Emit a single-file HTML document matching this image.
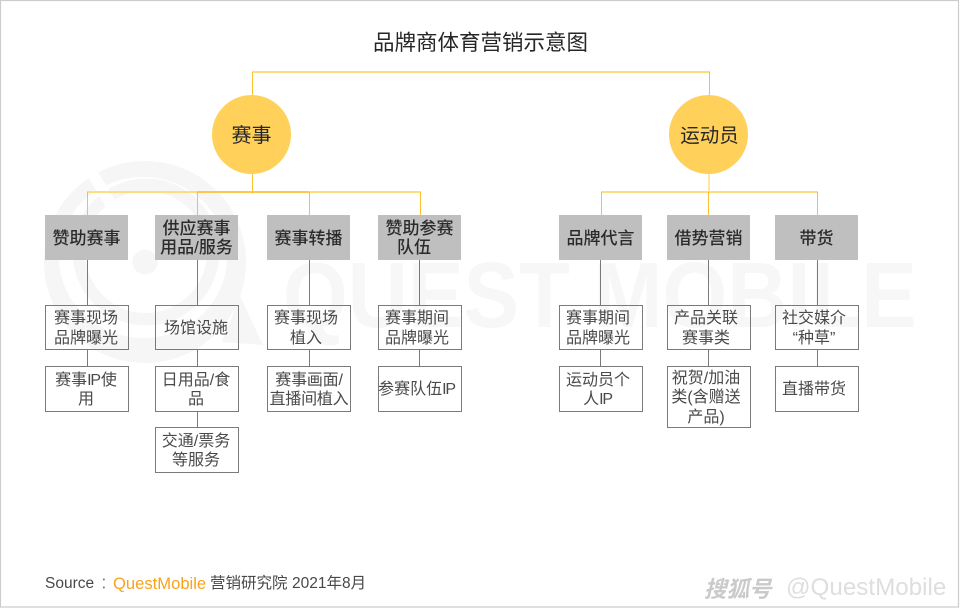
<!DOCTYPE html>
<html lang="zh"><head><meta charset="utf-8"><title>品牌商体育营销示意图</title>
<style>
html,body{margin:0;padding:0;background:#fff}
#p{position:relative;width:960px;height:608px;overflow:hidden;background:#fff;font-family:"Liberation Sans","Noto Sans CJK SC",sans-serif}
svg{position:absolute;left:0;top:0}
.b{position:absolute;box-sizing:border-box;width:84px;display:flex;align-items:center;justify-content:center;text-align:center;white-space:nowrap}
.w{background:transparent;border:1px solid #7a7a7a;color:#4a4a4a;font-size:16px;line-height:19.5px;width:84px;padding-top:2px}
.s{padding-right:6px}
.q{padding-right:2px}
.g{background:#bfbfbf;width:83px;height:45px;font-weight:500;color:#2b2b2b;line-height:19px;font-size:17px;padding-top:1px}
.c{position:absolute;width:79px;height:79px;box-sizing:border-box;border-radius:50%;background:#ffd05a;display:flex;align-items:center;justify-content:center;color:#262626;font-size:20px}
.t{position:absolute;white-space:nowrap}
.ip{letter-spacing:-1.2px;margin-right:1px}
.f{font-size:15.5px;line-height:20px;color:#484848;top:574px}
</style></head><body><div id="p">
<svg width="960" height="608" viewBox="0 0 960 608">
<rect x="0.5" y="0.5" width="958" height="606.5" fill="#fff" stroke="#cccccc" stroke-width="1.2"/>
<g fill="#f6f6f6">
<path fill-rule="evenodd" d="M44 262a101 101 0 1 0 202 0a101 101 0 1 0 -202 0ZM59 257.5a84 80.5 0 1 0 168 0a84 80.5 0 1 0 -168 0Z"/>
<path fill-rule="evenodd" d="M72.5 252a73.5 73.5 0 1 0 147 0a73.5 73.5 0 1 0 -147 0ZM85 252a61 61 0 1 0 122 0a61 61 0 1 0 -122 0Z"/>
<circle cx="145" cy="262" r="12.5"/>
<polygon points="240,296 263,345 222,342"/>
</g>
<line x1="125" y1="228" x2="85" y2="161" stroke="#fff" stroke-width="11"/>
<text x="283" y="327" font-family="Liberation Sans" font-weight="bold" font-size="93" fill="#f7f7f7" textLength="634" lengthAdjust="spacingAndGlyphs">QUEST MOBILE</text>

<g stroke="#ffdc80" stroke-width="2" fill="none">
<path d="M252 72H710"/>
<path d="M87 192H421"/>
<path d="M601 192H818"/>
<path d="M709 174V192" stroke-width="1.5"/>
</g>
<path d="M197 192H309" stroke="#fdc84a" stroke-width="2" fill="none"/>
<g stroke="#fdc030" stroke-width="1" fill="none">
<path d="M252.5 72V96M709.5 72V96"/>
<path d="M252.5 174V193.5"/>
<path d="M87.5 192V215M197.5 192V215M309.5 192V215M420.5 192V215"/>
<path d="M708.5 192V215"/>
<path d="M601.5 192V215M817.5 192V215"/>
</g>
<g stroke="#7a7a7a" stroke-width="1" fill="none">
<path d="M87.5 260V305M87.5 349V367"/>
<path d="M197.5 260V305M197.5 349V367M197.5 411V428"/>
<path d="M309.5 260V305M309.5 349V367"/>
<path d="M419.5 260V305M419.5 349V367"/>
<path d="M600.5 260V305M600.5 349V367"/>
<path d="M708.5 260V305M708.5 349V367"/>
<path d="M817.5 260V305M817.5 349V367"/>
</g>
</svg>

<div class="t" style="left:373px;top:30px;font-size:21.5px;line-height:26px;color:#262626">品牌商体育营销示意图</div>

<div class="c" style="left:212px;top:95px;padding-bottom:3px">赛事</div>
<div class="c" style="left:669px;top:95px;padding-left:2px;padding-bottom:2px;font-size:19.5px">运动员</div>

<div class="b g" style="left:45px;top:215px">赞助赛事</div>
<div class="b g" style="left:155px;top:215px"><span>供应赛事<br>用品/服务</span></div>
<div class="b g" style="left:267px;top:215px">赛事转播</div>
<div class="b g" style="left:378px;top:215px"><span>赞助参赛<br><span style="margin-right:11px">队伍</span></span></div>
<div class="b g" style="left:559px;top:215px">品牌代言</div>
<div class="b g" style="left:667px;top:215px">借势营销</div>
<div class="b g" style="left:775px;top:215px">带货</div>

<div class="b w q" style="left:45px;top:305px;height:45px"><span>赛事现场<br>品牌曝光</span></div>
<div class="b w q" style="left:45px;top:366px;height:46px"><span>赛事<span class="ip">IP</span>使<br>用</span></div>

<div class="b w q" style="left:155px;top:305px;height:45px">场馆设施</div>
<div class="b w q" style="left:155px;top:366px;height:46px"><span>日用品/食<br>品</span></div>
<div class="b w q" style="left:155px;top:427px;height:46px"><span>交通/票务<br>等服务</span></div>

<div class="b w s" style="left:267px;top:305px;height:45px"><span>赛事现场<br>植入</span></div>
<div class="b w" style="left:267px;top:366px;height:46px;letter-spacing:-.2px"><span>赛事画面/<br>直播间植入</span></div>

<div class="b w s" style="left:378px;top:305px;height:45px"><span>赛事期间<br>品牌曝光</span></div>
<div class="b w s" style="left:378px;top:366px;height:46px"><span>参赛队伍<span class="ip">IP</span></span></div>

<div class="b w s" style="left:559px;top:305px;height:45px"><span>赛事期间<br>品牌曝光</span></div>
<div class="b w s" style="left:559px;top:366px;height:46px"><span>运动员个<br>人<span class="ip">IP</span></span></div>

<div class="b w s" style="left:667px;top:305px;height:45px"><span>产品关联<br>赛事类</span></div>
<div class="b w s" style="left:667px;top:366px;height:62px"><span>祝贺/加油<br>类(含赠送<br>产品)</span></div>

<div class="b w s" style="left:775px;top:305px;height:45px"><span>社交媒介<br>“种草”</span></div>
<div class="b w s" style="left:775px;top:366px;height:46px">直播带货</div>

<div class="t f" style="left:45px">Source</div>
<div class="t f" style="left:100px;font-weight:300;color:#777">：</div>
<div class="t f" style="left:113px;color:#f9a21c;font-size:16.6px">QuestMobile</div>
<div class="t f" style="left:210px">营销研究院</div>
<div class="t f" style="left:292px">2021年8月</div>

<div class="t" style="left:704px;top:577px;font-size:22.5px;line-height:26px;font-style:italic;font-weight:bold;color:#cacaca">搜狐号</div>
<div class="t" style="left:786px;top:574px;font-size:24.2px;line-height:28px;color:#dedede">@QuestMobile</div>
</div></body></html>
